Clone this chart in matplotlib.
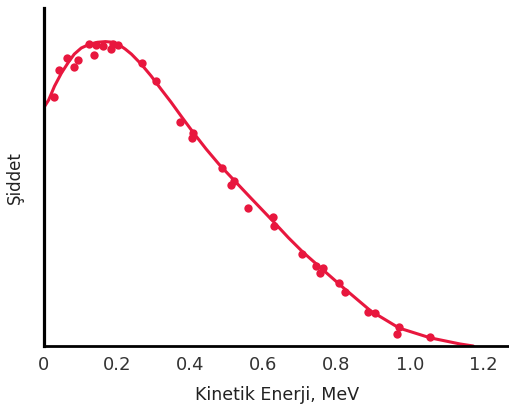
import matplotlib
matplotlib.use("Agg")
import matplotlib.pyplot as plt

# Measured data points (kinetic energy in MeV, relative intensity)
point_energy = [0.030, 0.041, 0.065, 0.082, 0.093, 0.125, 0.139, 0.144, 0.163, 0.185,
                0.190, 0.204, 0.269, 0.307, 0.373, 0.408, 0.405, 0.487, 0.520, 0.512,
                0.558, 0.626, 0.629, 0.707, 0.743, 0.762, 0.756, 0.808, 0.822, 0.887,
                0.906, 0.971, 0.966, 1.056]
point_intensity = [0.737, 0.817, 0.852, 0.825, 0.846, 0.893, 0.861, 0.891, 0.888, 0.879,
                   0.893, 0.891, 0.837, 0.784, 0.663, 0.630, 0.615, 0.527, 0.488, 0.476,
                   0.408, 0.382, 0.355, 0.272, 0.237, 0.231, 0.216, 0.186, 0.160, 0.101,
                   0.098, 0.056, 0.036, 0.027]

# Fitted spectrum curve
curve_energy = [0.000, 0.014, 0.030, 0.049, 0.068, 0.084, 0.103, 0.125, 0.147, 0.169,
                0.190, 0.207, 0.223, 0.240, 0.267, 0.294, 0.321, 0.348, 0.376, 0.408,
                0.444, 0.479, 0.512, 0.566, 0.626, 0.669, 0.708, 0.757, 0.819, 0.893,
                0.971, 1.056, 1.137, 1.173]
curve_intensity = [0.704, 0.728, 0.769, 0.808, 0.840, 0.864, 0.882, 0.893, 0.899, 0.901,
                   0.899, 0.891, 0.879, 0.864, 0.834, 0.799, 0.760, 0.722, 0.680, 0.633,
                   0.583, 0.538, 0.500, 0.438, 0.370, 0.320, 0.278, 0.231, 0.172, 0.104,
                   0.053, 0.024, 0.006, 0.000]

x_ticks = [0, 0.2, 0.4, 0.6, 0.8, 1.0, 1.2]
x_tick_labels = ["0", "0.2", "0.4", "0.6", "0.8", "1.0", "1.2"]

red = "#E8173E"

fig = plt.figure(figsize=(5.10, 4.08), dpi=100)
ax = fig.add_axes([0.0853, 0.152, 0.9147, 0.828])

ax.plot(curve_energy, curve_intensity, color=red, lw=2.2, solid_capstyle="round", zorder=2)
ax.plot(point_energy, point_intensity, "o", color=red, ms=6.0, mec="none", zorder=3)

ax.set_xlim(0, 1.2 * 468 / 441)
ax.set_ylim(0, 1.0)

for s in ["top", "right"]:
    ax.spines[s].set_visible(False)
ax.spines["left"].set_linewidth(2.3)
ax.spines["bottom"].set_linewidth(2.0)

ax.set_xticks(x_ticks)
ax.set_xticklabels(x_tick_labels, fontsize=13, color="#333333", family="DejaVu Sans")
ax.tick_params(axis="x", length=0, pad=7)
ax.set_yticks([])

ax.set_xlabel("Kinetik Enerji, MeV", fontsize=12.5, color="#222222", labelpad=9, family="DejaVu Sans")
ax.set_ylabel("Şiddet", fontsize=12, color="#222222", labelpad=14, family="DejaVu Sans")

fig.savefig("out.png", dpi=100)
